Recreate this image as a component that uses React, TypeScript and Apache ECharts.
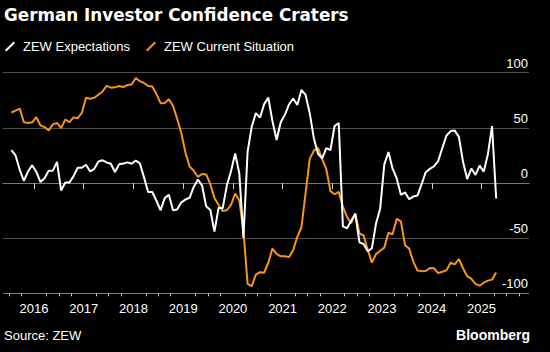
import React, { useEffect, useRef } from "react";
import * as echarts from "echarts";

// Monthly ZEW readings, July 2015 .. April 2025
const START_YEAR = 2015;
const START_MONTH = 7;

const expectations = [
  29.7, 25.0, 12.1, 1.9, 10.4, 16.1,
  10.2, 1.0, 4.3, 11.2, 11.2, 19.2, -6.8, 0.5, 0.5, 6.2, 13.8, 13.8,
  16.6, 10.4, 12.8, 19.5, 20.6, 18.6, 17.5, 10.0, 17.0, 17.6, 18.7, 17.4,
  20.4, 17.8, 5.1, -8.2, -8.2, -16.1, -24.7, -13.7, -10.6, -24.7, -24.1, -17.5,
  -15.0, -13.4, -3.6, 3.1, -2.1, -21.1, -24.5, -44.1, -22.5, -22.8, -2.1, 10.7,
  26.7, 8.7, -49.5, 28.2, 51.0, 63.4, 59.3, 71.5, 77.4, 56.1, 39.0, 55.0,
  61.8, 71.2, 76.6, 70.7, 84.4, 79.8, 63.3, 40.4, 26.5, 22.3, 31.7, 29.9,
  51.7, 54.3, -39.3, -41.0, -34.3, -28.0, -53.8, -55.3, -61.9, -59.2, -36.7, -23.3,
  16.9, 28.1, 13.0, 4.1, -10.7, -8.5, -14.7, -12.3, -11.4, -1.1, 9.8, 12.8,
  15.2, 19.9, 31.7, 42.9, 47.1, 47.5, 41.8, 19.2, 3.6, 13.1, 7.4, 15.7,
  10.3, 26.0, 51.6, -14.0,
];

const currentSituation = [
  63.9, 65.7, 67.5, 55.2, 54.4, 55.0,
  59.7, 52.3, 50.7, 47.7, 53.1, 54.5, 49.8, 57.6, 55.1, 59.5, 58.8, 63.5,
  77.3, 76.4, 77.3, 80.1, 83.0, 88.0, 86.4, 86.7, 87.9, 87.0, 88.8, 89.3,
  95.2, 92.3, 90.7, 87.9, 87.4, 80.6, 72.4, 72.6, 76.0, 70.1, 58.2, 45.3,
  27.6, 15.0, 11.1, 5.5, 8.2, 7.8, -1.1, -13.5, -19.9, -25.3, -24.7, -19.9,
  -9.5, -15.7, -43.1, -91.5, -93.5, -83.1, -80.9, -81.3, -72.3, -59.5, -64.3, -66.5,
  -66.4, -67.2, -61.0, -48.8, -40.1, -9.1, 21.9, 29.3, 31.9, 21.6, 12.5, -7.4,
  -10.2, -8.1, -21.4, -30.8, -36.5, -27.6, -45.8, -47.6, -60.5, -72.2, -64.5, -61.4,
  -58.6, -45.1, -46.5, -32.5, -34.8, -56.5, -59.5, -71.3, -79.4, -79.9, -79.8, -77.1,
  -77.3, -81.7, -80.5, -79.2, -72.3, -73.8, -68.9, -77.3, -84.5, -86.9, -91.4, -93.1,
  -90.4, -88.5, -87.6, -81.2,
];

const yearTicks = [2016, 2017, 2018, 2019, 2020, 2021, 2022, 2023, 2024, 2025];
const quarterOffsets = [0.25, 0.5, 0.75];
const yTicks = { min: -100, max: 100, step: 50 };

const X_MIN = 2015.3765;
const X_MAX = 2025.956;

const FONT = "'Liberation Sans', Arial, sans-serif";
const TITLE_FONT = "'DejaVu Sans', Verdana, sans-serif";
const WHITE = "#ffffff";
const ORANGE = "#f7941d";

// release dates fall around mid-month
function monthToYear(i: number): number {
  const m = START_MONTH - 1 + i;
  return START_YEAR + Math.floor(m / 12) + ((m % 12) + 0.55) / 12;
}

function toPairs(values: number[]) {
  return values.map((v, i) => [monthToYear(i), v]);
}

function quarterTicks(): number[] {
  const out: number[] = [];
  for (let y = 2015; y <= 2025; y++) {
    for (const q of quarterOffsets) {
      const v = y + q;
      if (v > X_MIN && v < X_MAX) out.push(v);
    }
  }
  return out;
}

const slashIcon = "path://M0,8.6 L8.6,0 L10,1.4 L1.4,10 Z";

export default function App() {
  const ref = useRef<HTMLDivElement | null>(null);

  useEffect(() => {
    if (!ref.current) return;
    const chart = echarts.init(ref.current, null, { renderer: "svg" });
    const legendBase = {
      top: 40,
      padding: 0,
      itemWidth: 10,
      itemHeight: 10,
      icon: slashIcon,
      textStyle: { color: WHITE, fontSize: 13, fontFamily: FONT, padding: [0, 0, 0, 3] },
    };
    chart.setOption({
      animation: false,
      backgroundColor: "#000000",
      title: {
        text: "German Investor Confidence Craters",
        left: 4,
        top: 6,
        padding: 0,
        textStyle: { color: WHITE, fontSize: 16.8, fontWeight: "bold", fontFamily: TITLE_FONT },
      },
      legend: [
        { ...legendBase, left: 5, data: ["ZEW Expectations"] },
        { ...legendBase, left: 146, data: ["ZEW Current Situation"] },
      ],
      grid: { left: 3, right: 21, top: 72.7, bottom: 58.7 },
      xAxis: [
        {
          type: "value",
          min: X_MIN,
          max: X_MAX,
          position: "bottom",
          axisLine: { show: true, lineStyle: { color: "#777777", width: 1 } },
          axisTick: { show: true, length: 6, customValues: yearTicks, lineStyle: { color: "#cccccc" } },
          axisLabel: {
            show: true,
            customValues: yearTicks,
            formatter: (v: number) => String(Math.round(v)),
            color: WHITE,
            fontSize: 13,
            fontFamily: FONT,
            margin: 9,
          },
          splitLine: { show: false },
        },
        {
          type: "value",
          min: X_MIN,
          max: X_MAX,
          position: "bottom",
          offset: 0,
          axisLine: { show: false },
          axisTick: { show: true, length: 3, customValues: quarterTicks(), lineStyle: { color: "#cccccc" } },
          axisLabel: { show: false },
          splitLine: { show: false },
        },
      ],
      yAxis: {
        type: "value",
        position: "right",
        min: yTicks.min,
        max: yTicks.max,
        interval: yTicks.step,
        axisLine: { show: false },
        axisTick: { show: false },
        axisLabel: {
          inside: true,
          margin: 1,
          color: WHITE,
          fontSize: 13,
          fontFamily: FONT,
          align: "right",
          verticalAlign: "bottom",
          padding: [0, 0, 3, 0],
        },
        splitLine: {
          show: true,
          lineStyle: { color: ["#777777", "#4d4d4d", "#b3b3b3", "#4d4d4d", "#4d4d4d"], width: 1 },
        },
      },
      series: [
        {
          name: "ZEW Expectations",
          type: "line",
          data: toPairs(expectations),
          color: WHITE,
          symbol: "none",
          lineStyle: { width: 2, color: WHITE },
          itemStyle: { color: WHITE },
          z: 3,
        },
        {
          name: "ZEW Current Situation",
          type: "line",
          data: toPairs(currentSituation),
          color: ORANGE,
          symbol: "none",
          lineStyle: { width: 2, color: ORANGE },
          itemStyle: { color: ORANGE },
          z: 2,
        },
      ],
      graphic: [
        {
          type: "text",
          left: 4,
          top: 329,
          style: { text: "Source: ZEW", fill: WHITE, fontSize: 13, fontFamily: FONT },
        },
        {
          type: "text",
          right: 20,
          top: 328,
          style: { text: "Bloomberg", fill: WHITE, fontSize: 14, fontWeight: "bold", fontFamily: FONT },
        },
      ],
    });
    return () => chart.dispose();
  }, []);

  return (
    <div
      ref={ref}
      style={{ position: "fixed", left: 0, top: 0, width: 550, height: 352, background: "#000" }}
    />
  );
}
